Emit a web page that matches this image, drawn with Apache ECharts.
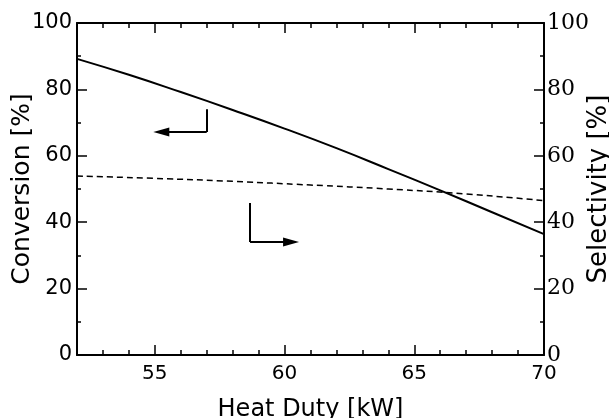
<!DOCTYPE html>
<html>

<head>
    <meta charset="utf-8" />
    <script src="https://cdn.jsdelivr.net/npm/echarts@6/dist/echarts.min.js"></script>
</head>

<body style="margin:0;background:#fff;">
    <div id="main" style="width: 609px;height:418px;"></div>
    <script type="text/javascript">
        // data
        const heatDuty = [52, 54, 56, 58, 60, 62, 64, 66, 68, 70];
        const conversion = [89.2, 84.4, 79.2, 73.8, 68.2, 62.3, 56.0, 49.6, 43.0, 36.4];
        const heatDutySel = [52, 55, 58, 61, 64, 67, 70];
        const selectivity = [53.9, 53.2, 52.3, 51.2, 50.0, 48.5, 46.5];
        const xMajorTicks = [55, 60, 65, 70];
        // arrow annotations, in data coordinates: [start, corner, tip]
        const arrowLeft = [[57, 74], [57, 67.2], [55.25, 67.2]];
        const arrowRight = [[58.67, 45.8], [58.67, 34], [60.25, 34]];

        const myChart = echarts.init(document.getElementById('main'), null, { renderer: 'canvas' });

        const black = '#000';
        function arrowSegments(p) {
            return [
                [{ coord: p[0] }, { coord: p[1] }],
                [{ coord: p[1] }, { coord: p[2], symbol: 'triangle', symbolSize: [9, 16] }]
            ];
        }

        function xAxisBase(pos, withLabels) {
            return {
                type: 'value', position: pos, min: 52, max: 70, interval: 1,
                axisLine: { show: true, onZero: false, lineStyle: { color: black, width: 2 } },
                axisTick: { show: true, inside: true, length: 5, lineStyle: { color: black, width: 1.5 } },
                axisLabel: {
                    show: withLabels, margin: 9, color: black, fontFamily: 'DejaVu Sans', fontSize: 20,
                    customValues: xMajorTicks
                },
                splitLine: { show: false }
            };
        }
        function xAxisMajor(pos) {
            return {
                type: 'value', position: pos, min: 52, max: 70,
                axisLine: { show: false, onZero: false },
                axisTick: { show: true, inside: true, length: 10, customValues: xMajorTicks, lineStyle: { color: black, width: 1.5 } },
                axisLabel: { show: false },
                splitLine: { show: false }
            };
        }
        const bottom = xAxisBase('bottom', true);
        bottom.name = 'Heat Duty [kW]';
        bottom.nameLocation = 'middle';
        bottom.nameGap = 43;
        bottom.nameMoveOverlap = false;
        bottom.nameTextStyle = { color: black, fontFamily: 'DejaVu Sans', fontSize: 24 };

        function yAxisBase(pos, name, nameSize, nameGap, font, size, margin) {
            return {
                type: 'value', position: pos, min: 0, max: 100, interval: 20,
                name: name, nameLocation: 'middle', nameRotate: 90, nameGap: nameGap,
                nameMoveOverlap: false,
                nameTextStyle: { color: black, fontFamily: 'DejaVu Sans', fontSize: nameSize },
                axisLine: { show: true, onZero: false, lineStyle: { color: black, width: 2 } },
                axisTick: { show: true, inside: true, length: 10, lineStyle: { color: black, width: 1.5 } },
                minorTick: { show: true, splitNumber: 2, length: 4, lineStyle: { color: black, width: 1.5 } },
                axisLabel: { margin: margin, color: black, fontFamily: font, fontSize: size },
                splitLine: { show: false }
            };
        }

        const option = {
            animation: false,
            backgroundColor: '#fff',
            grid: { left: 77, right: 65, top: 23, bottom: 63, containLabel: false, outerBoundsMode: 'none' },
            xAxis: [bottom, xAxisMajor('bottom'), xAxisBase('top', false), xAxisMajor('top')],
            yAxis: [
                yAxisBase('left', 'Conversion [%]', 25, 42, 'DejaVu Sans', 21, 5),
                yAxisBase('right', 'Selectivity [%]', 26, 42, 'DejaVu Serif', 22, 3)
            ],
            series: [
                {
                    type: 'line', xAxisIndex: 0, yAxisIndex: 0,
                    data: heatDuty.map((x, i) => [x, conversion[i]]),
                    showSymbol: false, smooth: true,
                    lineStyle: { color: black, width: 2 },
                    markLine: {
                        silent: true, animation: false,
                        symbol: ['none', 'none'],
                        label: { show: false },
                        lineStyle: { color: black, width: 2, type: 'solid' },
                        data: arrowSegments(arrowLeft).concat(arrowSegments(arrowRight))
                    }
                },
                {
                    type: 'line', xAxisIndex: 0, yAxisIndex: 1,
                    data: heatDutySel.map((x, i) => [x, selectivity[i]]),
                    showSymbol: false, smooth: true,
                    lineStyle: { color: black, width: 1.5, type: [6, 4] }
                }
            ]
        };

        myChart.setOption(option);
        window.addEventListener('resize', myChart.resize);
    </script>
</body>

</html>
